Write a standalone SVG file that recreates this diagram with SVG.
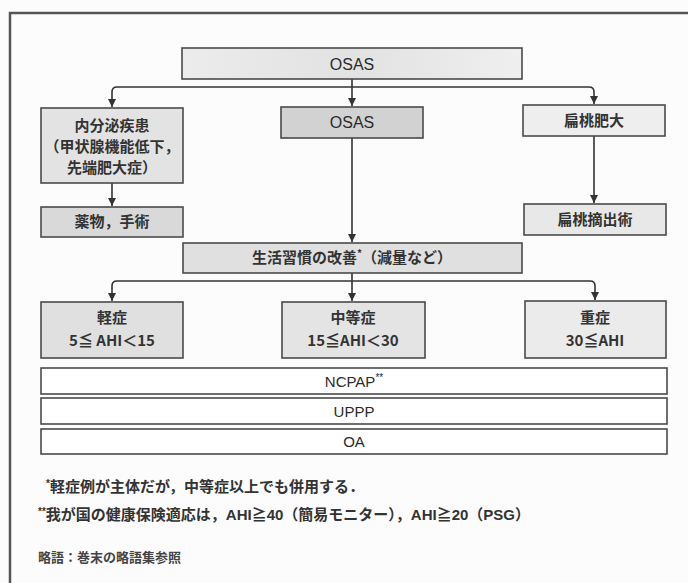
<svg xmlns="http://www.w3.org/2000/svg" width="688" height="583" viewBox="0 0 688 583">
<defs>
<marker id="ah" viewBox="0 0 8 10" refX="8" refY="5" markerWidth="8" markerHeight="10" markerUnits="userSpaceOnUse" orient="auto">
<path d="M0,1 L8,5 L0,9 Z" fill="#333"/>
</marker>
<linearGradient id="g1" x1="0" y1="0" x2="1" y2="0">
<stop offset="0" stop-color="#ececec"/><stop offset="0.5" stop-color="#e2e2e2"/><stop offset="1" stop-color="#efefef"/>
</linearGradient>
</defs>
<style>
.box{stroke:#4a4a4a;stroke-width:1.6}
.t{font-family:"Liberation Sans","Noto Sans CJK JP",sans-serif;font-size:16px;fill:#2a2a2a;text-anchor:middle}
.t2{font-family:"Liberation Sans","Noto Sans CJK JP",sans-serif;font-size:15px;fill:#2a2a2a;text-anchor:middle}
.j{font-family:"Noto Sans CJK JP","Liberation Sans",sans-serif;font-size:15px;font-weight:700;fill:#333;text-anchor:middle}
.n{font-family:"Liberation Sans","Noto Sans CJK JP",sans-serif;font-size:15px;font-weight:700;fill:#333}
.s{font-family:"Noto Sans CJK JP","Liberation Sans",sans-serif;font-size:13px;font-weight:700;fill:#444}
.c{fill:none;stroke:#333;stroke-width:1.6}
</style>
<rect width="688" height="583" fill="#fcfcfc"/>
<rect x="10" y="13" width="690" height="600" fill="none" stroke="#555" stroke-width="2.5"/>

<g id="connectors">
<path class="c" d="M352,79 V106" marker-end="url(#ah)"/>
<path class="c" d="M352,87 H117 Q112,87 112,92 V107" marker-end="url(#ah)"/>
<path class="c" d="M352,87 H589 Q594,87 594,92 V104" marker-end="url(#ah)"/>
<path class="c" d="M112,183 V206" marker-end="url(#ah)"/>
<path class="c" d="M594,136 V203" marker-end="url(#ah)"/>
<path class="c" d="M352,138 V242" marker-end="url(#ah)"/>
<path class="c" d="M352,273 V301" marker-end="url(#ah)"/>
<path class="c" d="M352,281 H117 Q112,281 112,286 V301" marker-end="url(#ah)"/>
<path class="c" d="M352,281 H590 Q595,281 595,286 V300" marker-end="url(#ah)"/>
</g>

<g id="osas-top">
<rect class="box" x="182" y="48" width="340" height="31" fill="url(#g1)"/>
<text class="t" x="352" y="70">OSAS</text>
</g>
<g id="endocrine">
<rect class="box" x="41" y="108" width="142" height="75" fill="#e3e3e3"/>
<text class="j" x="112" y="131">内分泌疾患</text>
<text class="j" x="112" y="152">（甲状腺機能低下，</text>
<text class="j" x="112" y="173">先端肥大症）</text>
</g>
<g id="osas-mid">
<rect class="box" x="281" y="107" width="142" height="31" fill="#d2d2d2"/>
<text class="t" x="352" y="128">OSAS</text>
</g>
<g id="tonsil">
<rect class="box" x="523" y="105" width="142" height="31" fill="#eeeeee"/>
<text class="j" x="594" y="126">扁桃肥大</text>
</g>
<g id="drug">
<rect class="box" x="41" y="207" width="142" height="30" fill="#d9d9d9"/>
<text class="j" x="112" y="227">薬物，手術</text>
</g>
<g id="tonsillectomy">
<rect class="box" x="524" y="204" width="142" height="31" fill="#e8e8e8"/>
<text class="j" x="595" y="225">扁桃摘出術</text>
</g>
<g id="lifestyle">
<rect class="box" x="183" y="243" width="339" height="30" fill="#e0e0e0"/>
<text class="j" x="352" y="263">生活習慣の改善<tspan font-size="10" dy="-6">*</tspan><tspan dy="6">（減量など）</tspan></text>
</g>
<g id="mild">
<rect class="box" x="41" y="302" width="142" height="56" fill="#e0e0e0"/>
<text class="j" x="112" y="323">軽症</text>
<text class="j" x="112" y="346">5≦ AHI＜15</text>
</g>
<g id="moderate">
<rect class="box" x="282" y="302" width="143" height="56" fill="#e4e4e4"/>
<text class="j" x="353" y="323">中等症</text>
<text class="j" x="353" y="346">15≦AHI＜30</text>
</g>
<g id="severe">
<rect class="box" x="525" y="301" width="141" height="57" fill="#ebebeb"/>
<text class="j" x="595" y="323">重症</text>
<text class="j" x="595" y="346">30≦AHI</text>
</g>
<g id="ncpap">
<rect class="box" x="41" y="368" width="626" height="26" fill="#fff"/>
<text class="t2" x="354" y="387">NCPAP<tspan font-size="10" dy="-6">**</tspan></text>
</g>
<g id="uppp">
<rect class="box" x="41" y="398" width="626" height="26" fill="#fff"/>
<text class="t2" x="354" y="417">UPPP</text>
</g>
<g id="oa">
<rect class="box" x="41" y="429" width="626" height="25" fill="#fff"/>
<text class="t2" x="354" y="447">OA</text>
</g>

<g id="notes">
<text class="n" x="46" y="492"><tspan font-size="10" dy="-5">*</tspan><tspan dy="5">軽症例が主体だが，中等症以上でも併用する．</tspan></text>
<text class="n" x="38" y="520"><tspan font-size="10" dy="-5">**</tspan><tspan dy="5">我が国の健康保険適応は，AHI≧40（簡易モニター），AHI≧20（PSG）</tspan></text>
<text class="s" x="38" y="562">略語：巻末の略語集参照</text>
</g>
</svg>
